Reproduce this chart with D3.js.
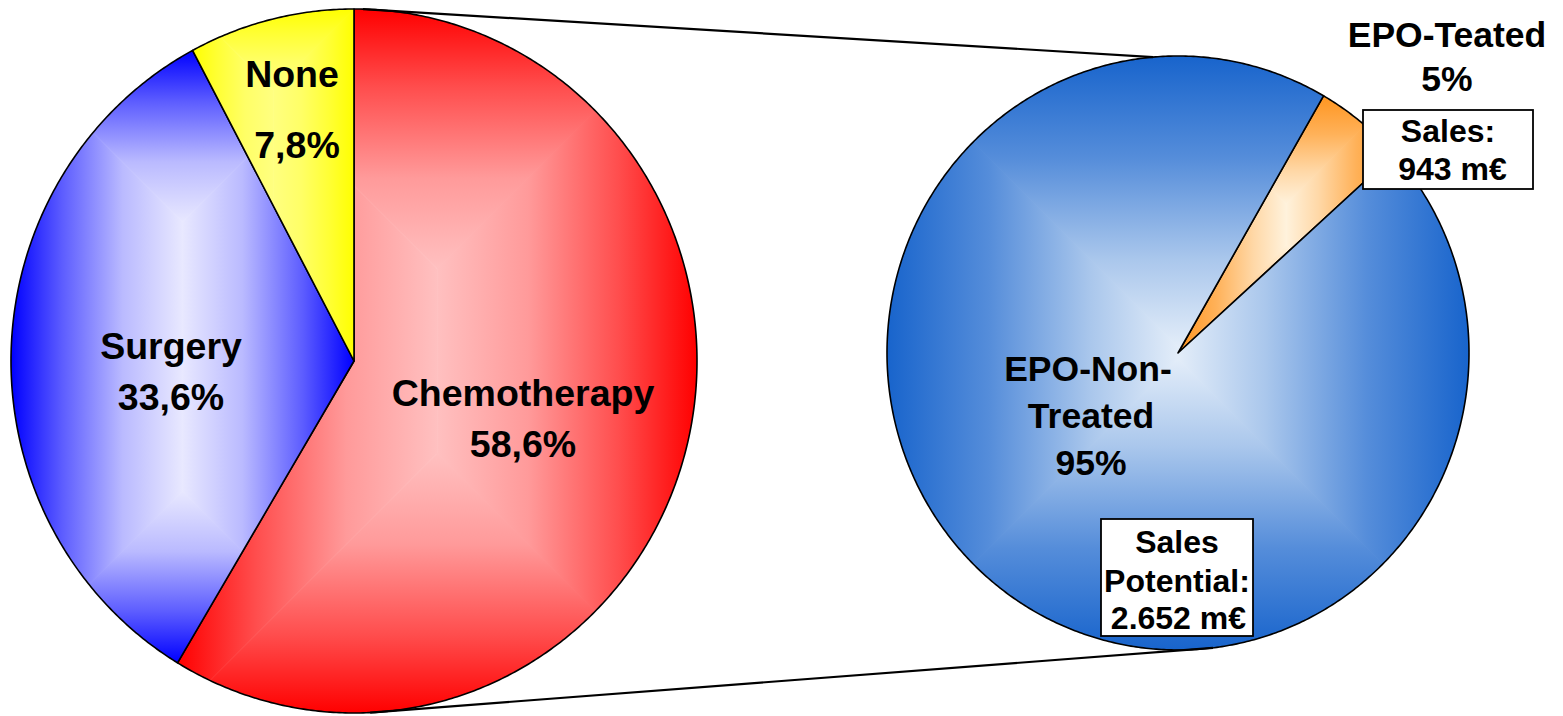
<!DOCTYPE html>
<html>
<head>
<meta charset="utf-8">
<script src="https://cdn.jsdelivr.net/npm/d3@7"></script>
<style>
  html, body { margin: 0; padding: 0; background: #fff; }
  svg { display: block; }
  text { font-family: "Liberation Sans", Arial, sans-serif; font-weight: bold; fill: #000; }
</style>
</head>
<body>
<div id="chart"></div>
<script>
// ---------- DATA ----------
const treatCategories = ["Chemotherapy", "Surgery", "None"];
const treatValues = [58.6, 33.6, 7.8];
const treatLabels = [["Chemotherapy", "58,6%"], ["Surgery", "33,6%"], ["None", "7,8%"]];

const epoCategories = ["EPO-Teated", "EPO-Non-Treated"];
const epoValues = [5, 95];
const epoLabels = [["EPO-Teated", "5%"], ["EPO-Non-", "Treated", "95%"]];

const salesTreated = ["Sales:", " 943 m€"];
const salesPotential = ["Sales", "Potential:", " 2.652 m€"];

// ---------- LAYOUT / STYLE ----------
const W = 1563, H = 716;
const leftPie = { cx: 354, cy: 361, rx: 343, ry: 352, start: 0,
  profile: [[0, 0], [0.3, 0.4], [0.65, 0.8], [1, 1]] };
const rightPie = { cx: 1178, cy: 353, rx: 291, ry: 297, start: 30,
  profile: [[0, 0], [0.35, 0.3], [0.7, 0.72], [1, 1]] };

const treatColors = [
  { edge: "#ff0000", center: "#ffc0c0" },
  { edge: "#0000ff", center: "#e8e8ff" },
  { edge: "#ffff00", center: "#ffff80" }
];
const epoColors = [
  { edge: "#ff9520", center: "#fff2dc" },
  { edge: "#1864cc", center: "#e3edf9" }
];

// label positions: [centerX, baselineY] per line
const treatLabelPos = [
  [[523, 406], [523, 457]],
  [[171, 359], [171, 410]],
  [[292, 87], [297, 158]]
];
const epoLabelPos = [
  [[1447, 47], [1447, 91]],
  [[1088, 381], [1091, 428], [1091, 475]]
];

const svg = d3.select("#chart").append("svg")
  .attr("width", W).attr("height", H)
  .attr("viewBox", `0 0 ${W} ${H}`);
const defs = svg.append("defs");

const rad = d => d * Math.PI / 180;
function ePt(p, a) { return [p.cx + p.rx * Math.sin(a), p.cy - p.ry * Math.cos(a)]; }

function slicePoints(p, a0, a1) {
  const n = Math.max(8, Math.ceil((a1 - a0) / rad(0.5)));
  const pts = [[p.cx, p.cy]];
  for (let i = 0; i <= n; i++) pts.push(ePt(p, a0 + (a1 - a0) * i / n));
  return pts;
}

let gid = 0;
function linGrad(x1, y1, x2, y2, c, profile) {
  const id = "g" + (gid++);
  const g = defs.append("linearGradient").attr("id", id)
    .attr("gradientUnits", "userSpaceOnUse")
    .attr("x1", x1).attr("y1", y1).attr("x2", x2).attr("y2", y2);
  const mix = d3.interpolateRgb(c.edge, c.center);
  profile.forEach(s => g.append("stop").attr("offset", s[0]).attr("stop-color", mix(s[1])));
  return id;
}

const line = d3.line();

function drawPie(p, values, colors) {
  const arcs = d3.pie().sort(null)
    .startAngle(rad(p.start)).endAngle(rad(p.start) + 2 * Math.PI)(values);
  const g = svg.append("g");
  arcs.forEach((a, i) => {
    const pts = slicePoints(p, a.startAngle, a.endAngle);
    const path = line(pts) + "Z";
    const x0 = d3.min(pts, d => d[0]), x1 = d3.max(pts, d => d[0]);
    const y0 = d3.min(pts, d => d[1]), y1 = d3.max(pts, d => d[1]);
    const m = Math.min(x1 - x0, y1 - y0) / 2;
    const c = colors[i];
    const clipId = "clip" + (gid++);
    defs.append("clipPath").attr("id", clipId).append("path").attr("d", path);
    const sg = g.append("g").attr("clip-path", `url(#${clipId})`);
    const regions = [
      { poly: [[x0, y0], [x1, y0], [x1 - m, y0 + m], [x0 + m, y0 + m]], gr: [0, y0, 0, y0 + m] },
      { poly: [[x0, y1], [x1, y1], [x1 - m, y1 - m], [x0 + m, y1 - m]], gr: [0, y1, 0, y1 - m] },
      { poly: [[x0, y0], [x0 + m, y0 + m], [x0 + m, y1 - m], [x0, y1]], gr: [x0, 0, x0 + m, 0] },
      { poly: [[x1, y0], [x1 - m, y0 + m], [x1 - m, y1 - m], [x1, y1]], gr: [x1, 0, x1 - m, 0] }
    ];
    regions.forEach(r => {
      const id = linGrad(r.gr[0], r.gr[1], r.gr[2], r.gr[3], c, p.profile);
      sg.append("path").attr("d", line(r.poly) + "Z")
        .attr("fill", `url(#${id})`).attr("stroke", `url(#${id})`).attr("stroke-width", 0.8);
    });
    g.append("path").attr("d", path)
      .attr("fill", "none").attr("stroke", "#000").attr("stroke-width", 1.6)
      .attr("stroke-linejoin", "round");
  });
  return arcs;
}

drawPie(leftPie, treatValues, treatColors);
drawPie(rightPie, epoValues, epoColors);

// connector lines between the pies
const conn = [
  [ePt(leftPie, rad(1.5)), ePt(rightPie, rad(-4.9))],
  [ePt(leftPie, rad(177.3)), ePt(rightPie, rad(173.1))]
];
conn.forEach(c => {
  svg.append("line")
    .attr("x1", c[0][0]).attr("y1", c[0][1])
    .attr("x2", c[1][0]).attr("y2", c[1][1])
    .attr("stroke", "#000").attr("stroke-width", 2.2);
});

// labels
function drawLabels(lines, pos, size) {
  lines.forEach((ln, i) => {
    svg.append("text").attr("x", pos[i][0]).attr("y", pos[i][1])
      .attr("text-anchor", "middle").attr("font-size", size).text(ln);
  });
}
treatLabels.forEach((l, i) => drawLabels(l, treatLabelPos[i], 37.5));
epoLabels.forEach((l, i) => drawLabels(l, epoLabelPos[i], 35.5));

// sales boxes
function salesBox(lines, box, pos, size) {
  svg.append("rect").attr("x", box[0]).attr("y", box[1])
    .attr("width", box[2] - box[0]).attr("height", box[3] - box[1])
    .attr("fill", "#fff").attr("stroke", "#000").attr("stroke-width", 1.8);
  lines.forEach((ln, i) => {
    svg.append("text").attr("x", pos[i][0]).attr("y", pos[i][1])
      .attr("text-anchor", "middle").attr("font-size", size)
      .attr("xml:space", "preserve").style("white-space", "pre").text(ln);
  });
}
salesBox(salesTreated, [1363, 110, 1533, 189], [[1448, 142], [1448, 180]], 32);
salesBox(salesPotential, [1101, 519, 1253, 636], [[1177, 553], [1177, 592], [1174, 629]], 32);
</script>
</body>
</html>
